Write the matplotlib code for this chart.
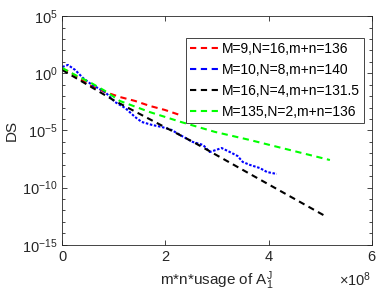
import matplotlib
matplotlib.use("Agg")
import matplotlib.pyplot as plt
from matplotlib.lines import Line2D
import numpy as np

plt.rcParams['font.family'] = ['Liberation Sans', 'DejaVu Sans']
plt.rcParams['mathtext.fontset'] = 'custom'
plt.rcParams['mathtext.rm'] = 'Liberation Sans'
plt.rcParams['mathtext.it'] = 'Liberation Sans'

# x in units of 1e8, y as log10(DS)
red_x = [0.0, 0.15, 0.34, 0.56, 0.83, 1.12, 1.41, 1.70, 1.99, 2.28]
red_y = [0.38, 0.11, -0.50, -1.11, -1.64, -2.08, -2.42, -2.86, -3.21, -3.65]

blue_x = [0.0, 0.11, 0.25, 0.40, 0.58, 0.69, 0.83, 1.02, 1.22, 1.41, 1.54, 1.74, 1.93,
          2.12, 2.32, 2.53, 2.73, 2.86, 2.98, 3.09, 3.25, 3.40, 3.50, 3.64, 3.83, 3.97, 4.16]
blue_y = [0.55, 0.73, 0.29, -0.41, -1.03, -1.29, -1.64, -2.51, -3.04, -3.82, -4.26, -4.52, -4.70,
          -4.96, -5.49, -6.01, -6.27, -6.89, -6.71, -6.54, -6.89, -7.24, -7.76, -8.02, -8.29, -8.64, -8.81]

black_x = [0.0, 1.02, 2.57, 3.64, 5.13]
black_y = [0.29, -2.42, -6.09, -8.81, -12.57]

green_x = [0.0, 0.25, 0.56, 0.83, 1.12, 1.70, 2.30, 2.96, 3.64, 4.41, 5.19]
green_y = [0.46, -0.15, -0.85, -1.55, -2.43, -3.40, -4.26, -5.13, -5.84, -6.71, -7.59]

labels = ["M=9,N=16,m+n=136", "M=10,N=8,m+n=140", "M=16,N=4,m+n=131.5", "M=135,N=2,m+n=136"]
colors = ['#ff0000', '#0000ff', '#000000', '#00ff00']

fig = plt.figure(figsize=(3.81, 3.04), dpi=100)
ax = fig.add_axes([0.1635, 0.195, 0.812, 0.752])

series = [(red_x, red_y), (blue_x, blue_y), (black_x, black_y), (green_x, green_y)]
handles = []
for (xs, ys), c, lab in zip(series, colors, labels):
    # the noisy blue curve reads as fine dots in the original
    d = (1.2, 0.8) if c == '#0000ff' else (3, 2.2)
    ax.plot(xs, 10.0 ** np.array(ys), color=c, lw=1.5, dashes=d)
    handles.append(Line2D([], [], color=c, lw=1.5, dashes=(3, 2.2), label=lab))

ax.set_yscale('log')
ax.set_xlim(0, 6)
ax.set_ylim(1e-15, 1e5)
ax.set_xticks([0, 2, 4, 6])
ax.set_yticks([1e-15, 1e-10, 1e-5, 1e0, 1e5])
ax.set_yticks([10.0 ** k for k in range(-15, 6)], minor=True)
ax.yaxis.set_minor_formatter(matplotlib.ticker.NullFormatter())
ax.tick_params(which='both', direction='in', top=True, right=True, colors='#262626',
               labelsize=10.5, labelcolor='#262626', width=0.6)
ax.tick_params(which='major', length=3.5)
ax.tick_params(which='minor', length=2)
for s in ax.spines.values():
    s.set_color('#262626')
    s.set_linewidth(0.6)

ax.set_xlabel(r'm*n*usage of A$_1^J$', fontsize=11, color='#262626', labelpad=4)
ax.set_ylabel('DS', fontsize=11, color='#262626', labelpad=2)
fig.text(0.975, 0.058, r'$\times$10$^8$', fontsize=10.5, color='#262626', ha='right')

leg = ax.legend(handles=handles, loc='upper right', bbox_to_anchor=(0.975, 0.904),
                borderaxespad=0, fontsize=10, handlelength=2.2, handletextpad=0.1,
                labelspacing=0.5, borderpad=0.3, fancybox=False, framealpha=1)
leg.get_frame().set_edgecolor('#262626')
leg.get_frame().set_linewidth(0.6)

fig.savefig('out.png', dpi=100)
